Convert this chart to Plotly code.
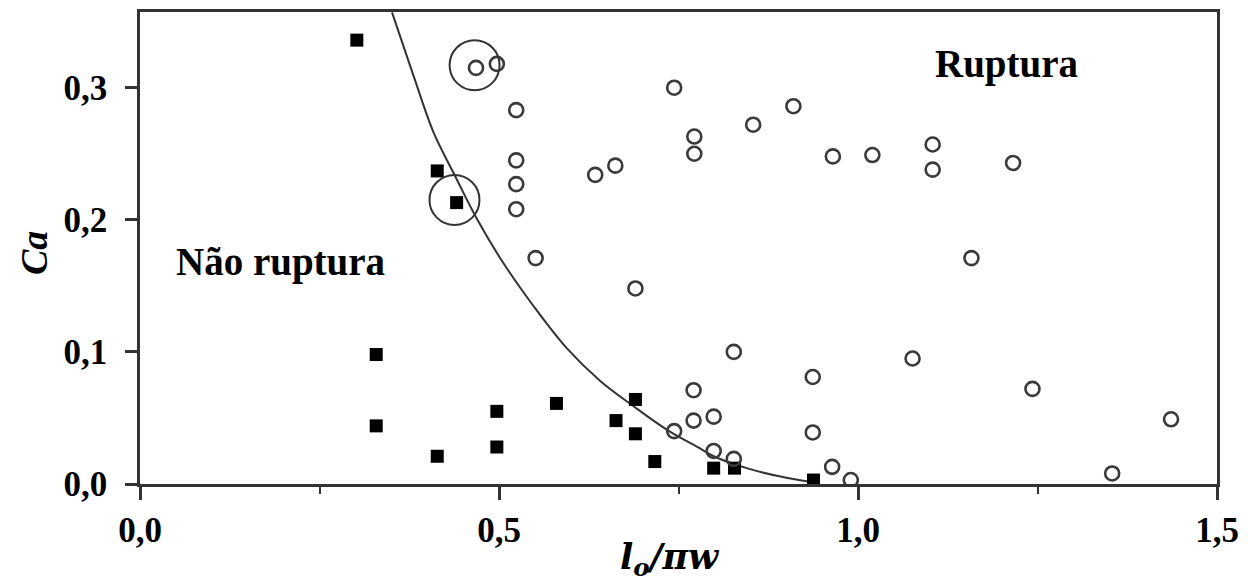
import plotly.graph_objects as go

# ---- data ----
# filled squares: "Não ruptura"
nr_x = [0.302, 0.329, 0.329, 0.414, 0.441, 0.414, 0.497, 0.497, 0.580, 0.663,
        0.690, 0.690, 0.717, 0.799, 0.828, 0.938]
nr_y = [0.336, 0.098, 0.044, 0.237, 0.213, 0.021, 0.055, 0.028, 0.061, 0.048,
        0.064, 0.038, 0.017, 0.012, 0.012, 0.003]

# open circles: "Ruptura"
r_x = [0.468, 0.497, 0.744, 0.524, 0.910, 0.854, 0.772, 0.772, 0.965, 0.524,
       0.662, 0.634, 0.524, 0.524, 0.551, 0.690, 1.020, 1.104, 1.104, 1.216,
       1.158, 0.827, 0.937, 0.771, 0.771, 0.799, 0.744, 0.937, 0.799, 0.827,
       0.964, 0.990, 1.076, 1.243, 1.436, 1.354]
r_y = [0.315, 0.318, 0.300, 0.283, 0.286, 0.272, 0.263, 0.250, 0.248, 0.245,
       0.241, 0.234, 0.227, 0.208, 0.171, 0.148, 0.249, 0.257, 0.238, 0.243,
       0.171, 0.100, 0.081, 0.071, 0.048, 0.051, 0.040, 0.039, 0.025, 0.019,
       0.013, 0.003, 0.095, 0.072, 0.049, 0.008]

# boundary curve
curve_x = [0.351, 0.381, 0.409, 0.439, 0.469, 0.504, 0.549, 0.594, 0.641,
           0.687, 0.734, 0.780, 0.799, 0.845, 0.892, 0.935]
curve_y = [0.357, 0.309, 0.266, 0.233, 0.201, 0.169, 0.134, 0.103, 0.078,
           0.059, 0.041, 0.027, 0.021, 0.012, 0.0056, 0.0015]

# highlight rings
hl_x = [0.466, 0.438]
hl_y = [0.317, 0.215]

x_tickvals = [0.0, 0.5, 1.0, 1.5]
x_ticktext = ["0,0", "0,5", "1,0", "1,5"]
x_minor = [0.25, 0.75, 1.25]
y_tickvals = [0.0, 0.1, 0.2, 0.3]
y_ticktext = ["0,0", "0,1", "0,2", "0,3"]

labels = ["Ruptura", "Não ruptura"]
label_x = [1.207, 0.195]
label_y = [0.318, 0.168]

SERIF = "Liberation Serif"
LINE = "#333333"

fig = go.Figure()
fig.add_trace(go.Scatter(x=curve_x, y=curve_y, mode="lines", line_shape="spline",
                         line=dict(color=LINE, width=2), hoverinfo="skip"))
fig.add_trace(go.Scatter(x=nr_x, y=nr_y, mode="markers",
                         marker=dict(symbol="square", size=13, color="black")))
fig.add_trace(go.Scatter(x=r_x, y=r_y, mode="markers",
                         marker=dict(symbol="circle-open", size=14, color="#3a3a3a",
                                     line=dict(width=2.6, color="#3a3a3a"))))
fig.add_trace(go.Scatter(x=hl_x, y=hl_y, mode="markers",
                         marker=dict(symbol="circle-open", size=50, color=LINE,
                                     line=dict(width=2, color=LINE))))

for t, lx, ly in zip(labels, label_x, label_y):
    fig.add_annotation(x=lx, y=ly, text=t, showarrow=False,
                       font=dict(family=SERIF, size=39, color="black", weight="bold"))

# axis titles as paper-anchored annotations
fig.add_annotation(xref="paper", yref="paper", x=0.492, y=-0.212, yanchor="bottom",
                   text="<i>l<sub>o</sub>/πw</i>", showarrow=False,
                   font=dict(family="DejaVu Serif", size=35, color="black", weight="bold"))
fig.add_annotation(xref="paper", yref="paper", x=-0.099, y=0.49, xanchor="center",
                   text="<i>Ca</i>", textangle=-90, showarrow=False,
                   font=dict(family=SERIF, size=38, color="black", weight="bold"))

# page body has an 8px default margin, so the figure is sized to fit the window
fig.update_layout(
    width=1240, height=577,
    margin=dict(l=132, r=31, t=4, b=101),
    paper_bgcolor="white", plot_bgcolor="white",
    showlegend=False,
)
fig.update_xaxes(
    range=[0, 1.5], tickvals=x_tickvals, ticktext=x_ticktext, automargin=False,
    showgrid=False, zeroline=False,
    showline=True, mirror=True, linecolor=LINE, linewidth=2.5,
    ticks="outside", ticklen=13, tickwidth=2.5, tickcolor=LINE,
    tickfont=dict(family=SERIF, size=35, color="black", weight="bold"),
    minor=dict(tickvals=x_minor, ticks="outside", ticklen=7, tickwidth=2, tickcolor=LINE),
)
fig.update_yaxes(
    range=[0, 0.3573], tickvals=y_tickvals, ticktext=y_ticktext, automargin=False,
    showgrid=False, zeroline=False,
    showline=True, mirror=True, linecolor=LINE, linewidth=2.5,
    ticks="outside", ticklen=12, tickwidth=2.5, tickcolor=LINE, ticklabelstandoff=11,
    tickfont=dict(family=SERIF, size=35, color="black", weight="bold"),
)

fig.write_html("out.html")
